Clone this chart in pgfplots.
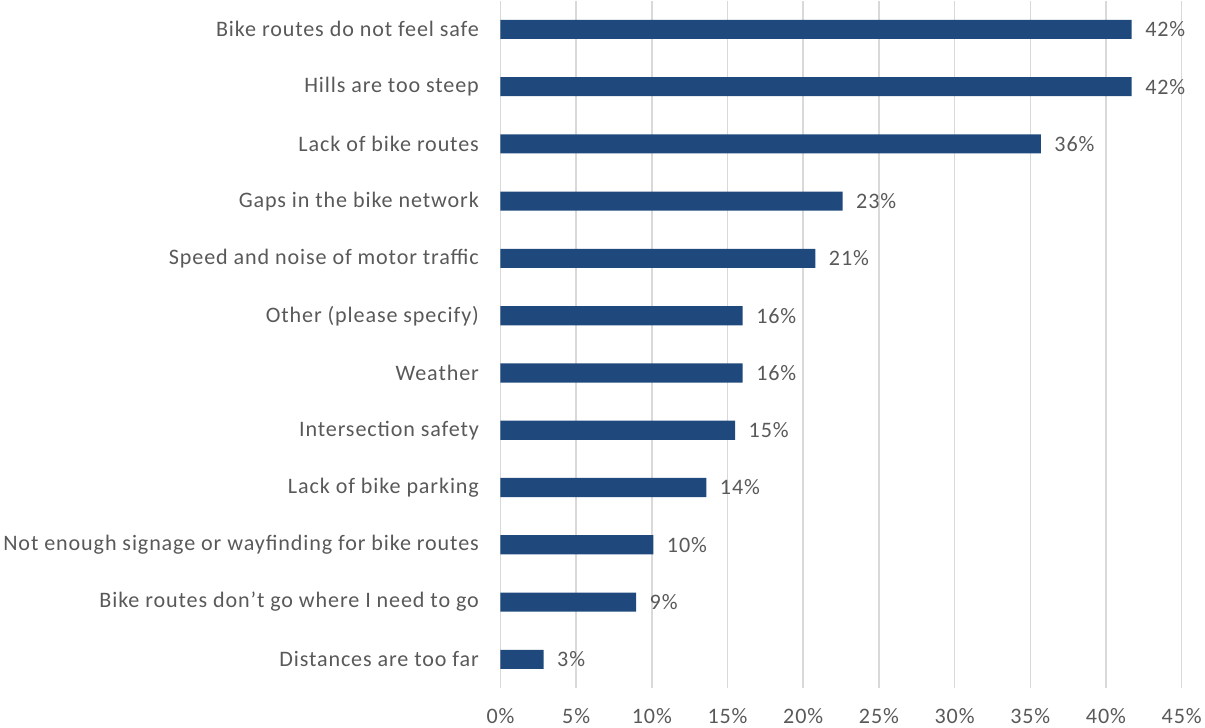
\documentclass[border=0pt]{standalone}
\usepackage{pgfplots}
\pgfplotsset{compat=1.18}
\usepackage{fontspec}
\setmainfont{Carlito}[LetterSpace=4]
\definecolor{barblue}{HTML}{1F497D}
\definecolor{txtgray}{HTML}{595959}
\definecolor{gridgray}{HTML}{D9D9D9}
\begin{document}
\begin{tikzpicture}
\begin{axis}[
  xbar, scale only axis, width=678pt, height=684pt,
  xmin=0, xmax=45, ymin=-0.5, ymax=11.5, y dir=reverse,
  xtick={0,5,...,45}, ytick={0,...,11},
  yticklabels={{Bike routes do not feel safe},{Hills are too steep},{Lack of bike routes},{Gaps in the bike network},{Speed and noise of motor traffic},{Other (please specify)},{Weather},{Intersection safety},{Lack of bike parking},{Not enough signage or wayfinding for bike routes},{Bike routes don’t go where I need to go},{Distances are too far}},
  xticklabel={\pgfmathprintnumber{\tick}\%},
  /pgf/number format/assume math mode=true,
  ticklabel style={font=\fontsize{22}{26}\selectfont, text=txtgray},
  yticklabel style={xshift=-18pt},
  xticklabel style={yshift=-17pt},
  axis line style={draw=none}, major tick length=0pt,
  xmajorgrids, grid style={gridgray, line width=1.5pt},
  bar width=19pt,
  point meta=explicit symbolic,
  nodes near coords, nodes near coords align={horizontal},
  every node near coord/.append style={font=\fontsize{22}{26}\selectfont, text=txtgray, anchor=west, xshift=10pt},
]
\addplot[fill=barblue, draw=none] coordinates {
  (41.7,0)[42\%] (41.7,1)[42\%] (35.7,2)[36\%] (22.6,3)[23\%]
  (20.8,4)[21\%] (16.0,5)[16\%] (16.0,6)[16\%] (15.5,7)[15\%]
  (13.6,8)[14\%] (10.1,9)[10\%] (8.96,10)[9\%] (2.85,11)[3\%]
};
\end{axis}
\end{tikzpicture}
\end{document}
